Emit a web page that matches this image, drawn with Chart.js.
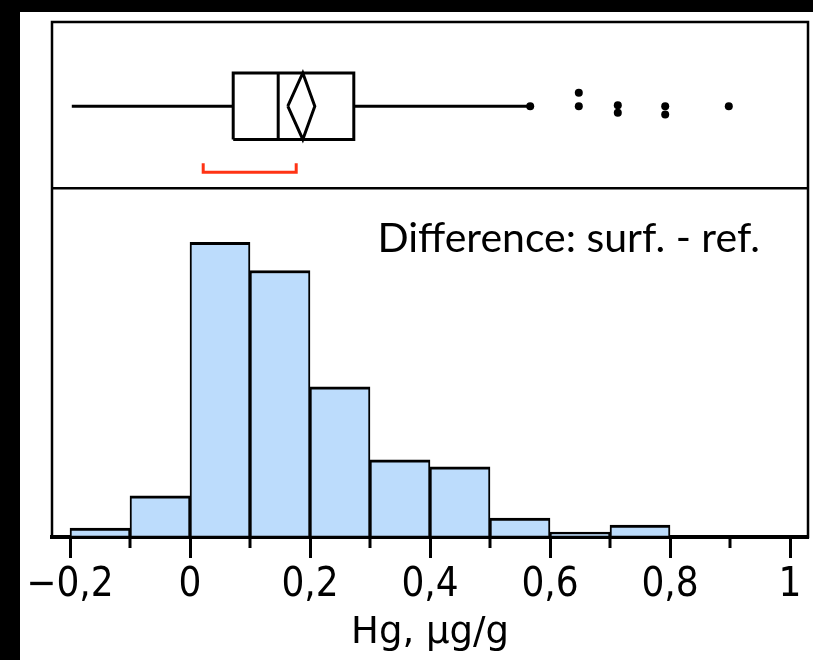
<!DOCTYPE html>
<html>
<head>
<meta charset="utf-8">
<script src="https://cdn.jsdelivr.net/npm/chart.js@4"></script>
<style>
  html, body { margin: 0; background: #000; }
  #paper { position: absolute; left: 20px; top: 12px; width: 793px; height: 648px; background: #fff; }
  #c { position: absolute; left: 0; top: 0; }
</style>
</head>
<body>
<div id="paper"></div>
<canvas id="c" width="813" height="660"></canvas>
<script>
// histogram (bin start, width 0.1) - bar heights
const binStart = [-0.2, -0.1, 0, 0.1, 0.2, 0.3, 0.4, 0.5, 0.6, 0.7];
const histValues = [0.9, 4.1, 29.4, 26.6, 15.0, 7.7, 7.0, 1.9, 0.5, 1.2];
const binWidth = 0.1;

// x axis
const tickValues = [-0.2, 0, 0.2, 0.4, 0.6, 0.8, 1];
const tickLabels = ['\u22120,2', '0', '0,2', '0,4', '0,6', '0,8', '1'];
const minorTicks = [-0.1, 0.1, 0.3, 0.5, 0.7, 0.9];

// box plot summary
const whiskerLow = -0.197, q1 = 0.072, median = 0.147, q3 = 0.273, whiskerHigh = 0.567;
const meanValue = 0.188, meanLow = 0.163, meanHigh = 0.208;
const shortestHalf = [0.022, 0.177];
const outlierX = [0.567, 0.648, 0.648, 0.713, 0.713, 0.792, 0.792, 0.898];
const outlierY = [0, 0.4, 0, 0.03, -0.2, 0, -0.25, 0];

const annotation = 'Difference: surf. - ref.';

const seg = (pts, color) => ({
  type: 'line',
  data: pts,
  yAxisID: 'yBox',
  borderColor: color || '#000',
  borderWidth: 3,
  pointRadius: 0,
  fill: false,
  tension: 0,
  borderJoinStyle: 'miter',
  borderCapStyle: 'butt'
});

const framePlugin = {
  id: 'frame',
  afterDraw(chart) {
    const { ctx, chartArea: a, scales } = chart;
    ctx.save();
    ctx.strokeStyle = '#000';
    ctx.lineWidth = 2.5;
    ctx.strokeRect(a.left, a.top, a.right - a.left, a.bottom - a.top);
    ctx.beginPath();
    ctx.moveTo(a.left, scales.yBox.bottom);
    ctx.lineTo(a.right, scales.yBox.bottom);
    ctx.stroke();

    // short minor ticks between the labelled ones
    ctx.lineWidth = 3;
    minorTicks.forEach(v => {
      const px = scales.x.getPixelForValue(v);
      ctx.beginPath();
      ctx.moveTo(px, a.bottom);
      ctx.lineTo(px, a.bottom + 11);
      ctx.stroke();
    });

    ctx.fillStyle = '#000';
    ctx.font = '41px Lato';
    ctx.textAlign = 'right';
    ctx.textBaseline = 'alphabetic';
    ctx.fillText(annotation, scales.x.getPixelForValue(0.95), scales.yBox.bottom + 64);
    ctx.restore();
  }
};

const hidden = {
  grid: { display: false, drawTicks: false },
  border: { display: false },
  ticks: { display: false },
  offset: false
};

new Chart(document.getElementById('c'), {
  type: 'bar',
  data: {
    datasets: [
      {
        type: 'bar',
        data: binStart.map((b, i) => ({ x: b + binWidth / 2, y: histValues[i] })),
        yAxisID: 'y',
        backgroundColor: '#bcdcfc',
        borderColor: '#000',
        borderWidth: { top: 3, left: 2, right: 2, bottom: 0 },
        borderSkipped: 'start',
        barPercentage: 1,
        categoryPercentage: 1
      },
      seg([{ x: whiskerLow, y: 0 }, { x: q1, y: 0 }]),
      seg([{ x: q3, y: 0 }, { x: whiskerHigh, y: 0 }]),
      seg([{ x: q1, y: -1 }, { x: q3, y: -1 }, { x: q3, y: 1 }, { x: q1, y: 1 }, { x: q1, y: -1 }]),
      seg([{ x: median, y: -1 }, { x: median, y: 1 }]),
      seg([{ x: meanLow, y: 0 }, { x: meanValue, y: 1 }, { x: meanHigh, y: 0 }, { x: meanValue, y: -1 }, { x: meanLow, y: 0 }]),
      seg([{ x: shortestHalf[0], y: -1.72 }, { x: shortestHalf[0], y: -1.99 },
           { x: shortestHalf[1], y: -1.99 }, { x: shortestHalf[1], y: -1.72 }], '#ff3314'),
      {
        type: 'scatter',
        data: outlierX.map((x, i) => ({ x, y: outlierY[i] })),
        yAxisID: 'yBox',
        pointRadius: 4,
        pointBackgroundColor: '#000',
        pointBorderWidth: 0,
        showLine: false
      }
    ]
  },
  options: {
    responsive: false,
    animation: false,
    layout: { padding: { left: 52, top: 22, right: 5, bottom: 1 } },
    plugins: { legend: { display: false }, tooltip: { enabled: false } },
    scales: {
      x: {
        type: 'linear',
        min: -0.23,
        max: 1.03,
        offset: false,
        afterBuildTicks: s => { s.ticks = tickValues.map(v => ({ value: v })); },
        grid: { display: true, offset: false, drawOnChartArea: false, drawTicks: true, tickLength: 21, tickWidth: 3, tickColor: '#000' },
        border: { display: true, width: 4, color: '#000' },
        ticks: {
          padding: 8,
          color: '#000',
          autoSkip: false,
          maxRotation: 0,
          font: { family: '"DejaVu Sans Condensed", "DejaVu Sans"', size: 40, lineHeight: 1 },
          callback: (v, i) => tickLabels[i]
        },
        title: {
          display: true,
          text: 'Hg, \u00b5g/g',
          color: '#000',
          font: { family: '"DejaVu Sans"', size: 37, lineHeight: 1 },
          padding: { top: 1, bottom: 7 }
        }
      },
      y: Object.assign({ type: 'linear', min: 0, max: 34.8, stack: 'panels', stackWeight: 348 }, hidden),
      yBox: Object.assign({ type: 'linear', min: -2.47, max: 2.53, stack: 'panels', stackWeight: 166 }, hidden)
    }
  },
  plugins: [framePlugin]
});
</script>
</body>
</html>
